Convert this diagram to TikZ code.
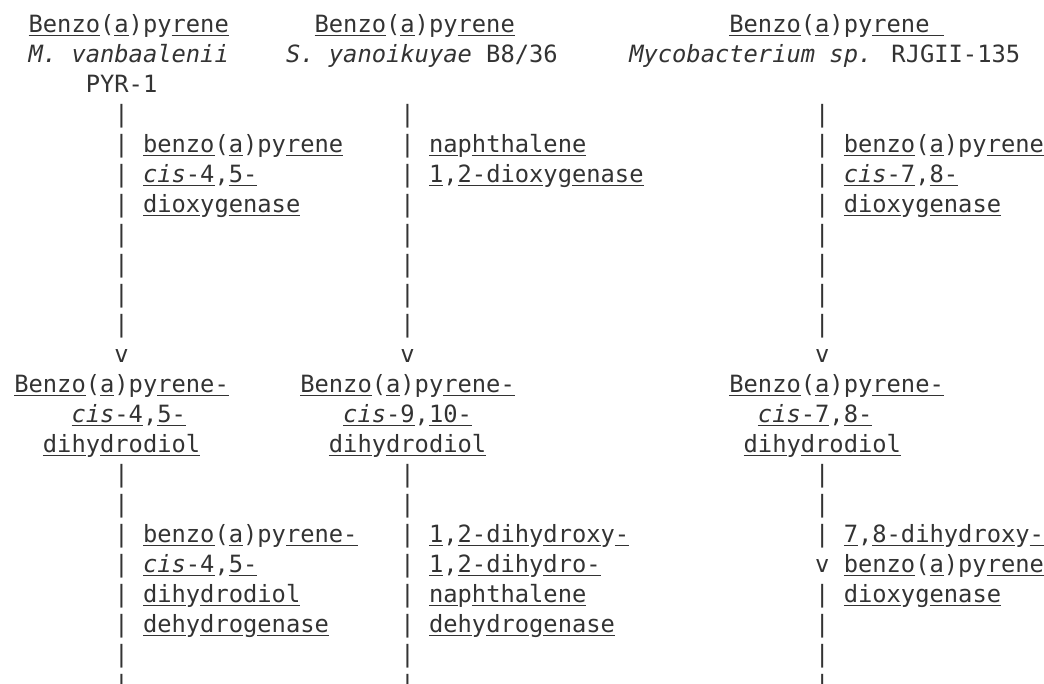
\documentclass[tikz,border=0pt]{standalone}
\usepackage{fontspec}
\newfontfamily\asciifont{DejaVu Sans Mono}
\definecolor{ink}{RGB}{51,51,51}
\newif\ifdsc
\def\ulth{1.3pt}
\def\uloff{3.6pt}
\def\ulchar#1{\dscfalse
  \ifx#1(\dsctrue\fi\ifx#1)\dsctrue\fi\ifx#1p\dsctrue\fi\ifx#1y\dsctrue\fi
  \ifx#1g\dsctrue\fi\ifx#1,\dsctrue\fi\ifx#1j\dsctrue\fi\ifx#1q\dsctrue\fi
  \setbox0\hbox{#1}%
  \ifdsc\box0\else\rlap{\rule[-\uloff]{\wd0}{\ulth}}\box0\fi}
\def\ulword#1{\ulloop#1\relax}
\def\ulloop#1{\ifx#1\relax\else\ulchar#1\expandafter\ulloop\fi}
\def\ulsp{\rlap{\rule[-\uloff]{14.3014pt}{\ulth}}\hspace*{14.3014pt}}
\begin{document}
\begin{tikzpicture}[x=14.3014pt,y=-30pt,
  txt/.style={anchor=base west,inner sep=0pt,outer sep=0pt,text=ink,
    font=\asciifont\fontsize{23.754pt}{30pt}\selectfont}]
\useasboundingbox (0pt,0pt) rectangle (1044pt,-684pt);
\fill[white] (0pt,0pt) rectangle (1044pt,-684pt);
\clip (0pt,0pt) rectangle (1044pt,-684pt);
\begin{scope}[yshift=-32.7pt]
% substrates
\node[txt] (sA) at (2,0) {\ulword{Benzo(a)pyrene}};
\node[txt] (sB) at (22,0) {\ulword{Benzo(a)pyrene}};
\node[txt] (sC) at (51,0) {\ulword{Benzo(a)pyrene}\ulsp};
% organisms
\node[txt] (oA) at (2,1) {{\itshape M. vanbaalenii}};
\node[txt] (oB) at (20,1) {{\itshape S. yanoikuyae} B8/36};
\node[txt] (oC) at (44,1) {{\itshape Mycobacterium sp.} RJGII-135};
\node[txt] (oA2) at (6,2) {PYR-1};
% pipes, first step
\foreach \c/\n in {8/a,28/b,57/c}{
  \foreach \r in {3,...,10} \node[txt] (\n\r) at (\c,\r) {|};
  \node[txt] (\n11) at (\c,11) {v};
}
% enzymes, first step
\node[txt] (eA1) at (10,4) {\ulword{benzo(a)pyrene}};
\node[txt] (eA2) at (10,5) {{\itshape\ulword{cis}}\ulword{-4,5-}};
\node[txt] (eA3) at (10,6) {\ulword{dioxygenase}};
\node[txt] (eB1) at (30,4) {\ulword{naphthalene}};
\node[txt] (eB2) at (30,5) {\ulword{1,2-dioxygenase}};
\node[txt] (eC1) at (59,4) {\ulword{benzo(a)pyrene}};
\node[txt] (eC2) at (59,5) {{\itshape\ulword{cis}}\ulword{-7,8-}};
\node[txt] (eC3) at (59,6) {\ulword{dioxygenase}};
% products
\node[txt] (pA1) at (1,12) {\ulword{Benzo(a)pyrene-}};
\node[txt] (pA2) at (5,13) {{\itshape\ulword{cis}}\ulword{-4,5-}};
\node[txt] (pA3) at (3,14) {\ulword{dihydrodiol}};
\node[txt] (pB1) at (21,12) {\ulword{Benzo(a)pyrene-}};
\node[txt] (pB2) at (24,13) {{\itshape\ulword{cis}}\ulword{-9,10-}};
\node[txt] (pB3) at (23,14) {\ulword{dihydrodiol}};
\node[txt] (pC1) at (51,12) {\ulword{Benzo(a)pyrene-}};
\node[txt] (pC2) at (53,13) {{\itshape\ulword{cis}}\ulword{-7,8-}};
\node[txt] (pC3) at (52,14) {\ulword{dihydrodiol}};
% pipes, second step
\foreach \c/\n in {8/a,28/b}{
  \foreach \r in {15,...,22} \node[txt] (\n\r) at (\c,\r) {|};
}
\foreach \r in {15,16,17,19,20,21,22} \node[txt] (c\r) at (57,\r) {|};
\node[txt] (c18) at (57,18) {v};
% enzymes, second step
\node[txt] (fA1) at (10,17) {\ulword{benzo(a)pyrene-}};
\node[txt] (fA2) at (10,18) {{\itshape\ulword{cis}}\ulword{-4,5-}};
\node[txt] (fA3) at (10,19) {\ulword{dihydrodiol}};
\node[txt] (fA4) at (10,20) {\ulword{dehydrogenase}};
\node[txt] (fB1) at (30,17) {\ulword{1,2-dihydroxy-}};
\node[txt] (fB2) at (30,18) {\ulword{1,2-dihydro-}};
\node[txt] (fB3) at (30,19) {\ulword{naphthalene}};
\node[txt] (fB4) at (30,20) {\ulword{dehydrogenase}};
\node[txt] (fC1) at (59,17) {\ulword{7,8-dihydroxy-}};
\node[txt] (fC2) at (59,18) {\ulword{benzo(a)pyrene}};
\node[txt] (fC3) at (59,19) {\ulword{dioxygenase}};
\end{scope}
\end{tikzpicture}
\end{document}
